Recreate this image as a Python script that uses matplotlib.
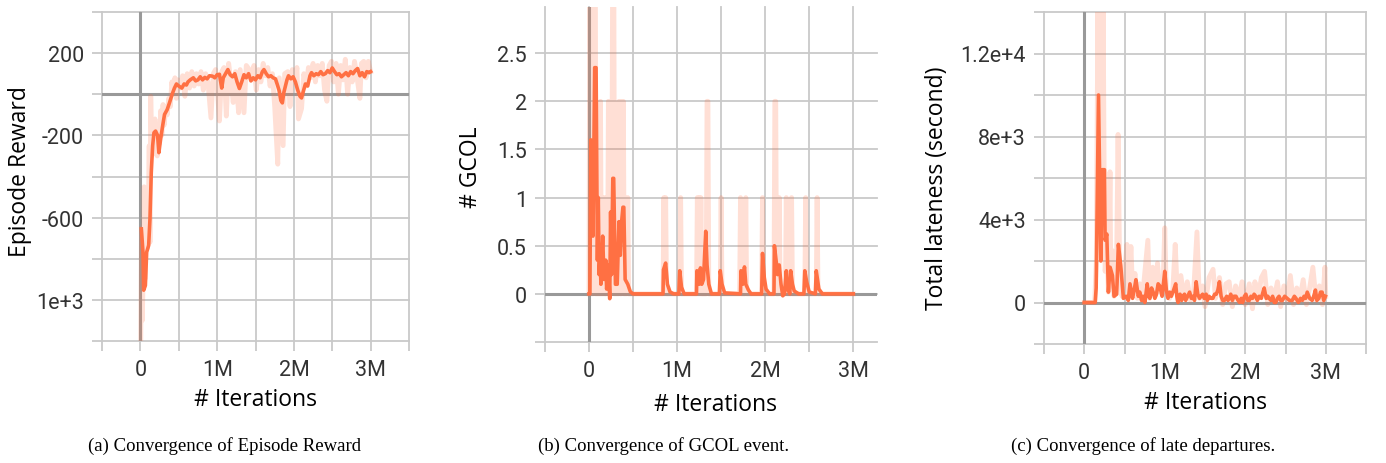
import matplotlib
matplotlib.use("Agg")
import matplotlib.pyplot as plt

# ---- (a) episode reward, x in millions of iterations
rew_x = [0.013, 0.034, 0.043, 0.065, 0.082, 0.108, 0.125, 0.142, 0.16, 0.177, 0.198, 0.224,
         0.241, 0.263, 0.293, 0.315, 0.349, 0.379, 0.414, 0.444, 0.47, 0.5, 0.54, 0.57,
         0.6, 0.62, 0.65, 0.69, 0.72, 0.75, 0.78, 0.81, 0.84, 0.87, 0.9, 0.94, 0.97,
         1.0, 1.03, 1.06, 1.08, 1.11, 1.14, 1.17, 1.2, 1.23, 1.26, 1.29, 1.32, 1.35,
         1.38, 1.41, 1.44, 1.47, 1.5, 1.53, 1.56, 1.59, 1.61, 1.64, 1.67, 1.7, 1.73,
         1.76, 1.79, 1.81, 1.83, 1.85, 1.87, 1.89, 1.91, 1.93, 1.96, 1.99, 2.02, 2.05,
         2.08, 2.1, 2.12, 2.15, 2.18, 2.21, 2.23, 2.26, 2.29, 2.32, 2.35, 2.38, 2.41,
         2.44, 2.47, 2.5, 2.53, 2.56, 2.59, 2.62, 2.65, 2.68, 2.71, 2.74, 2.77, 2.8,
         2.83, 2.86, 2.89, 2.92, 2.95, 2.98, 3.0]
rew_y = [-655, -768, -953, -930, -768, -735, -606, -380, -250, -187, -179, -200,
         -284, -220, -147, -98, -75, -42, 0, 30, 50, 40, 30, 50,
         45, 60, 70, 80, 65, 70, 85, 70, 82, 75, 90, 88, 80,
         95, 97, 30, 80, 100, 120, 95, 85, 100, 60, 28, 60, 95,
         80, 100, 65, 80, 70, 90, 80, 110, 120, 100, 85, 90, 80,
         75, 40, 15, -30, -42, 10, 40, 70, 90, 75, 85, 60, 20,
         -10, -18, 10, 50, 40, 90, 105, 90, 100, 95, 110, 95, 100,
         115, 105, 128, 110, 95, 100, 85, 95, 105, 90, 110, 100, 115,
         125, 90, 105, 85, 110, 105, 110]
rew_raw_x = [0.005, 0.015, 0.025, 0.04, 0.05, 0.06, 0.075, 0.09, 0.1, 0.115, 0.125, 0.135,
             0.15, 0.165, 0.18, 0.19, 0.205, 0.22, 0.235, 0.25, 0.265, 0.28, 0.295, 0.31,
             0.33, 0.35, 0.37, 0.39, 0.41, 0.43, 0.45, 0.47, 0.49, 0.52, 0.55, 0.58, 0.61,
             0.64, 0.67, 0.7, 0.73, 0.76, 0.79, 0.82, 0.85, 0.88, 0.92, 0.95, 0.98, 1.0,
             1.03, 1.06, 1.09, 1.12, 1.15, 1.18, 1.21, 1.24, 1.28, 1.3, 1.35, 1.38, 1.42,
             1.45, 1.48, 1.51, 1.54, 1.57, 1.6, 1.63, 1.66, 1.69, 1.72, 1.75, 1.79, 1.81,
             1.86, 1.88, 1.92, 1.95, 1.98, 2.01, 2.04, 2.06, 2.1, 2.13, 2.16, 2.19, 2.22,
             2.25, 2.28, 2.31, 2.34, 2.37, 2.4, 2.43, 2.46, 2.49, 2.52, 2.55, 2.58, 2.61,
             2.64, 2.67, 2.7, 2.73, 2.76, 2.79, 2.82, 2.86, 2.88, 2.91, 2.94, 2.97, 3.0]
rew_raw_y = [-1200, -650, -1100, -800, -450, -900, -600, -750, -700, -250, -720, -10,
             -300, -180, -250, -120, -230, -300, -150, -240, -80, -200, -50, -150,
             -60, -100, -20, -60, 60, 0, 80, -20, 70, 30, 90, -10, 100,
             30, 110, 40, 100, 50, 110, 20, 100, 60, -115, 100, 120, 40,
             -130, 110, 130, -106, 150, 60, -40, 110, -90, 120, -90, 140, 120,
             70, 140, 20, 120, 60, 150, 90, 130, 40, 100, -60, -340, 80,
             -250, 100, 110, -60, 120, 60, 130, -120, -70, 100, 40, 130, 80,
             150, 60, 140, 90, 150, 20, -34, 140, 160, 60, 150, 0, 140,
             70, 170, 0, 130, 60, 160, 90, -20, 150, 160, 80, 160, 110]

# ---- (b) GCOL events
gcol_x = [0.0, 0.01, 0.02, 0.03, 0.045, 0.055, 0.064, 0.08, 0.095, 0.105, 0.115, 0.125,
          0.135, 0.155, 0.17, 0.19, 0.2, 0.22, 0.235, 0.245, 0.255, 0.27, 0.28, 0.3,
          0.32, 0.34, 0.355, 0.37, 0.385, 0.395, 0.41, 0.44, 0.47, 0.5, 0.84, 0.845,
          0.87, 0.89, 0.92, 0.96, 1.02, 1.03, 1.05, 1.08, 1.22, 1.225, 1.25, 1.265,
          1.28, 1.3, 1.325, 1.34, 1.36, 1.39, 1.48, 1.49, 1.51, 1.54, 1.72, 1.725,
          1.745, 1.765, 1.78, 1.81, 1.84, 1.96, 1.97, 1.99, 2.01, 2.05, 2.1, 2.105,
          2.13, 2.14, 2.16, 2.18, 2.2, 2.22, 2.24, 2.255, 2.27, 2.28, 2.29, 2.31,
          2.33, 2.38, 2.44, 2.45, 2.47, 2.5, 2.57, 2.58, 2.61, 2.65, 3.0]
gcol_y = [0.0, 0.0, 1.6, 1.0, 0.6, 1.5, 2.35, 2.35, 0.35, 1.0, 0.2, 0.4,
          0.1, 0.6, 0.15, 0.35, 0.05, 0.3, -0.05, 0.85, 0.2, 1.2, 1.2, 0.1,
          0.1, 0.75, 0.4, 0.75, 0.9, 0.9, 0.15, 0.1, 0.02, 0.0, 0.0, 0.25,
          0.32, 0.1, 0.02, 0.0, 0.0, 0.24, 0.07, 0.0, 0.0, 0.24, 0.1, 0.27,
          0.1, 0.15, 0.65, 0.3, 0.1, 0.0, 0.0, 0.24, 0.1, 0.01, 0.0, 0.24,
          0.1, 0.28, 0.1, 0.04, 0.0, 0.0, 0.42, 0.17, 0.05, 0.0, 0.0, 0.5,
          0.3, 0.2, 0.3, 0.1, -0.02, 0.0, 0.24, 0.05, 0.02, 0.0, 0.24, 0.1,
          0.03, 0.0, 0.0, 0.24, 0.13, 0.02, 0.0, 0.24, 0.05, 0.0, 0.0]
gcol_raw_x = [0.0, 0.01, 0.02, 0.03, 0.04, 0.05, 0.06, 0.07, 0.08, 0.09, 0.1, 0.11, 0.12,
              0.13, 0.14, 0.15, 0.16, 0.17, 0.18, 0.19, 0.2, 0.21, 0.22, 0.23, 0.24, 0.25,
              0.26, 0.27, 0.28, 0.29, 0.3, 0.31, 0.32, 0.33, 0.34, 0.35, 0.36, 0.37, 0.38,
              0.39, 0.4, 0.41, 0.42, 0.44, 0.45, 0.84, 0.85, 0.86, 0.87, 0.88, 1.03, 1.04,
              1.05, 1.22, 1.23, 1.24, 1.25, 1.26, 1.27, 1.28, 1.33, 1.34, 1.35, 1.36, 1.49,
              1.5, 1.51, 1.71, 1.72, 1.73, 1.77, 1.78, 1.79, 1.96, 1.97, 1.98, 2.1, 2.11,
              2.12, 2.13, 2.15, 2.16, 2.17, 2.23, 2.24, 2.25, 2.29, 2.3, 2.31, 2.45, 2.46,
              2.47, 2.58, 2.59, 2.6, 3.0]
gcol_raw_y = [0, 4, 1, 4, 0, 4, 3, 4, 0, 1, 0, 1, 0,
              2, 0, 1, 0, 1, 0, 0, 1, 0, 2, 0, 1, 0,
              1, 4, 4, 0, 1, 0, 1, 0, 2, 1, 0, 2, 1,
              2, 0, 1, 0, 1, 0, 0, 1, 0, 1, 0, 0, 1,
              0, 0, 1, 0, 1, 0, 1, 0, 0, 2, 2, 0, 0,
              1, 0, 0, 1, 0, 0, 1, 0, 0, 1, 0, 0, 2,
              2, 0, 0, 1, 0, 0, 1, 0, 0, 1, 0, 0, 1,
              0, 0, 1, 0, 0]

# ---- (c) total lateness
late_x = [0.0, 0.136, 0.148, 0.177, 0.206, 0.222, 0.251, 0.259, 0.28, 0.3, 0.321, 0.35,
          0.37, 0.403, 0.424, 0.453, 0.486, 0.519, 0.547, 0.568, 0.6, 0.62, 0.642, 0.671,
          0.69, 0.712, 0.73, 0.753, 0.782, 0.8, 0.815, 0.836, 0.856, 0.877, 0.897, 0.918,
          0.938, 0.967, 1.0, 1.02, 1.04, 1.06, 1.082, 1.11, 1.136, 1.15, 1.165, 1.19,
          1.21, 1.226, 1.245, 1.26, 1.285, 1.309, 1.33, 1.35, 1.37, 1.39, 1.41, 1.432,
          1.45, 1.47, 1.49, 1.514, 1.53, 1.55, 1.575, 1.597, 1.62, 1.64, 1.66, 1.679,
          1.7, 1.72, 1.741, 1.77, 1.785, 1.802, 1.82, 1.84, 1.86, 1.885, 1.91, 1.93,
          1.95, 1.967, 1.99, 2.008, 2.03, 2.05, 2.07, 2.09, 2.11, 2.13, 2.15, 2.173,
          2.2, 2.22, 2.235, 2.26, 2.28, 2.296, 2.32, 2.34, 2.36, 2.379, 2.4, 2.42,
          2.44, 2.461, 2.49, 2.52, 2.55, 2.584, 2.61, 2.63, 2.66, 2.687, 2.71, 2.73,
          2.75, 2.77, 2.8, 2.831, 2.85, 2.872, 2.89, 2.914, 2.935, 2.955, 2.975, 2.996]
late_y = [0, 0, 700, 10000, 2000, 6400, 6400, 3000, 3300, 500, 1700, 1300,
          300, 400, 2800, 1800, 200, 300, 100, 900, 200, 600, 1100, 300,
          500, 100, 300, 0, 900, 300, 200, 700, 500, 200, 400, 900,
          800, 300, 1500, 600, 200, 500, 300, 600, 900, 300, 0, 400,
          100, 300, 400, 100, 300, 500, 200, 300, 100, 1000, 400, 200,
          300, 400, 200, 400, 100, 300, 200, 200, 400, 400, 600, 1000,
          300, 100, 100, 300, 100, 200, 400, 100, 300, 300, 100, 0,
          200, 0, 300, 400, 100, 100, 300, 200, 400, 300, 100, 300,
          200, 500, 700, 200, 300, 200, 100, 300, 0, 0, 200, 300,
          100, 100, 300, 200, 100, 100, 300, 200, 0, 200, 100, 300,
          200, 500, 200, 100, 300, 600, 100, 200, 500, 500, 100, 300]
late_raw_x = [0.0, 0.13, 0.15, 0.17, 0.18, 0.19, 0.2, 0.21, 0.22, 0.235, 0.25, 0.26, 0.28,
              0.3, 0.32, 0.33, 0.35, 0.37, 0.4, 0.42, 0.44, 0.47, 0.5, 0.53, 0.55, 0.58,
              0.6, 0.63, 0.66, 0.69, 0.72, 0.79, 0.81, 0.85, 0.88, 0.91, 0.94, 0.98, 1.0,
              1.02, 1.06, 1.1, 1.13, 1.16, 1.2, 1.24, 1.28, 1.32, 1.36, 1.4, 1.43, 1.47,
              1.5, 1.55, 1.6, 1.63, 1.68, 1.72, 1.76, 1.8, 1.84, 1.88, 1.92, 1.96, 2.0,
              2.05, 2.09, 2.12, 2.16, 2.2, 2.24, 2.28, 2.32, 2.36, 2.4, 2.44, 2.48, 2.52,
              2.56, 2.6, 2.64, 2.68, 2.72, 2.76, 2.8, 2.84, 2.88, 2.92, 2.96, 2.99, 3.0]
late_raw_y = [0, 0, 2000, 14500, 8000, 14500, 3000, 14500, 6000, 14500, 4000, 1500, 3000,
              500, 6300, 800, 2500, 300, 1200, 8100, 1500, 300, 1400, 2800, 200, 2700,
              600, 1400, 200, 900, 100, 3000, 200, 1700, 300, 1900, 500, 900, 3600,
              400, 200, 600, 2800, 100, 1300, 200, 1000, 100, 600, 3400, 200, 800,
              -200, 1200, 1600, 200, 1200, -100, 900, 1000, -200, 800, 200, 1000, -100,
              900, -300, 1000, 200, 1200, 1500, -100, 700, 200, 1000, -200, 800, 100,
              1300, -100, 700, 200, 1100, -100, 700, 1700, 100, 800, -100, 1700, 300]

ORANGE = "#ff7043"
GRID = "#c9c9c9"
ZERO = "#999999"
TICKFONT = "Roboto"
LABELFONT = "Open Sans"


def setup(ax, xlim, ylim, xticks, yticks, ylabels):
    ax.set_xlim(*xlim)
    ax.set_ylim(*ylim)
    for s in ax.spines.values():
        s.set_visible(False)
    ax.set_xticks(xticks)
    ax.set_xticklabels(["0" if t == 0 else ("%dM" % t if t == int(t) else "") for t in xticks],
                       fontfamily=TICKFONT, fontsize=15.5, color="#333333")
    ax.set_yticks(yticks)
    ax.set_yticklabels(ylabels, fontfamily=TICKFONT, fontsize=15.5, color="#333333")
    ax.tick_params(axis="both", length=7, width=1.3, color=GRID, direction="out")
    ax.tick_params(axis="x", pad=6)
    ax.tick_params(axis="y", pad=6)
    ax.grid(True, color=GRID, linewidth=1.3, zorder=0)
    for gl in ax.get_xgridlines() + ax.get_ygridlines():
        gl.set_clip_on(False)
    ax.axhline(0, color=ZERO, linewidth=2.2, zorder=1)
    ax.axvline(0, color=ZERO, linewidth=2.2, zorder=1)
    ax.set_axisbelow(True)


fig = plt.figure(figsize=(13.86, 4.64), dpi=100)
W, H = 1386.0, 464.0


def box(l, r, t, b):
    return [l / W, 1 - b / H, (r - l) / W, (b - t) / H]


ax1 = fig.add_axes(box(102, 409, 13, 342))
ax2 = fig.add_axes(box(545, 877, 8, 343))
ax3 = fig.add_axes(box(1044, 1366, 13, 345))

xt = [-0.5, 0, 0.5, 1, 1.5, 2, 2.5, 3, 3.5]
LAB = dict(fontfamily=LABELFONT, fontsize=16.5, va="center")

# (a)
ax1.plot(rew_raw_x, rew_raw_y, color=ORANGE, alpha=0.22, lw=3.5, zorder=2)
ax1.plot(rew_x, rew_y, color=ORANGE, lw=2.6, zorder=3)
yt1 = [-1200, -1000, -800, -600, -400, -200, 0, 200, 400]
setup(ax1, (-0.5, 3.5), (-1200, 400), xt, yt1,
      ["", "1e+3", "", "-600", "", "-200", "", "200", ""])
ax1.set_xlabel("# Iterations", **LAB)
ax1.xaxis.set_label_coords((256 - 102) / 307.0, -(400 - 342) / 329.0)
ax1.set_ylabel("Episode Reward", **LAB)
ax1.yaxis.set_label_coords((20 - 102) / 307.0, (342 - 172) / 329.0)

# (b)
ax2.plot(gcol_raw_x, gcol_raw_y, color=ORANGE, alpha=0.22, lw=3.5, zorder=2)
ax2.plot(gcol_x, gcol_y, color=ORANGE, lw=2.6, zorder=3)
yt2 = [-0.5, 0, 0.5, 1, 1.5, 2, 2.5]
setup(ax2, (-0.5, 3.27), (-0.5, 2.98), xt[:-1], yt2,
      ["", "0", "0.5", "1", "1.5", "2", "2.5"])
ax2.set_xlabel("# Iterations", **LAB)
ax2.xaxis.set_label_coords((716 - 545) / 332.0, -(405 - 343) / 335.0)
ax2.set_ylabel("# GCOL", **LAB)
ax2.yaxis.set_label_coords((471 - 545) / 332.0, (343 - 167) / 335.0)

# (c)
ax3.plot(late_raw_x, late_raw_y, color=ORANGE, alpha=0.22, lw=3.5, zorder=2)
ax3.plot(late_x, late_y, color=ORANGE, lw=2.6, zorder=3)
yt3 = [-2000, 0, 2000, 4000, 6000, 8000, 10000, 12000, 14000]
setup(ax3, (-0.5, 3.5), (-2000, 14000), xt, yt3,
      ["", "0", "", "4e+3", "", "8e+3", "", "1.2e+4", ""])
ax3.set_xlabel("# Iterations", **LAB)
ax3.xaxis.set_label_coords((1205 - 1044) / 322.0, -(403 - 345) / 332.0)
ax3.set_ylabel("Total lateness (second)", **LAB)
ax3.yaxis.set_label_coords((937 - 1044) / 322.0, (345 - 188) / 332.0)

# captions
cap = dict(fontfamily="Liberation Serif", fontsize=13.5, ha="center", va="center")
fig.text(225 / W, 1 - 446 / H, "(a) Convergence of Episode Reward", **cap)
fig.text(664 / W, 1 - 446 / H, "(b) Convergence of GCOL event.", **cap)
fig.text(1143 / W, 1 - 446 / H, "(c) Convergence of late departures.", **cap)

fig.savefig("out.png", dpi=100)
